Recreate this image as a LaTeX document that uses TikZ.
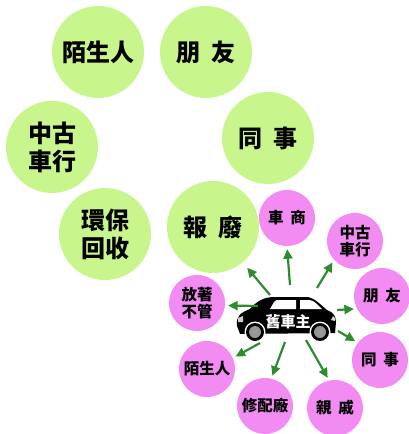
\documentclass[tikz,border=0pt]{standalone}
\usepackage{fontspec}
\newfontfamily\cjk{Noto Sans CJK TC}
\usetikzlibrary{arrows.meta}
\definecolor{limefill}{RGB}{200,245,140}
\definecolor{pinkfill}{RGB}{242,140,242}
\definecolor{arrowgreen}{RGB}{45,140,45}
\definecolor{wheelgray}{RGB}{150,150,150}
\newcommand{\gapsp}{\hspace{0.45em}}
\tikzset{
  bigball/.style={circle, fill=limefill, minimum size=92pt, inner sep=0pt,
    align=center, font=\cjk\bfseries\fontsize{24}{28}\selectfont},
  smallball/.style={circle, fill=pinkfill, minimum size=56pt, inner sep=0pt,
    align=center, font=\cjk\bfseries\fontsize{15.5}{17.5}\selectfont},
  outarrow/.style={draw=arrowgreen, line width=2.2pt,
    -{Triangle[length=9.5pt,width=9pt]}, shorten >=3pt},
}
\begin{document}
\begin{tikzpicture}[x=1pt, y=-1pt]
\useasboundingbox (0,0) rectangle (408,434);

% outer ring of lime circles
\node[bigball] (g1) at (98,52)   {陌生人};
\node[bigball] (g2) at (206,52)  {朋\gapsp 友};
\node[bigball] (g3) at (52,147)  {中古\\車行};
\node[bigball] (g4) at (268,138) {同\gapsp 事};
\node[bigball] (g5) at (105,234) {環保\\回收};
\node[bigball] (g6) at (213,227) {報\gapsp 廢};

% inner ring of pink circles
\node[smallball] (p1) at (287,218) {車\gapsp 商};
\node[smallball] (p2) at (355,241) {中古\\車行};
\node[smallball] (p3) at (382,296) {朋\gapsp 友};
\node[smallball] (p4) at (380,360) {同\gapsp 事};
\node[smallball] (p5) at (335,408) {親\gapsp 戚};
\node[smallball] (p6) at (265,406) {修配廠};
\node[smallball] (p7) at (207,369) {陌生人};
\node[smallball] (p8) at (197,303) {放著\\不管};

% the car
\fill[black] (240,334) -- (237,326)
  .. controls (236,316) and (240,313) .. (250,309)
  .. controls (256,302) and (262,298) .. (272,297) -- (308,297)
  .. controls (314,298) and (320,304) .. (327,310)
  .. controls (333,312) and (336,316) .. (336,322)
  -- (335,333) -- cycle;
\fill[white] (270,309) -- (274,302) .. controls (276,300) .. (280,300)
  -- (296,300) -- (296,309) -- cycle;
\fill[white] (300,300) -- (309,300) .. controls (314,301) .. (322,309)
  -- (300,309) -- cycle;
\fill[white!80!black] (238,318) -- (243,316) -- (243,322) -- (238,322) -- cycle;
\fill[white!85!black] (333,316) -- (335,318) -- (335,321) -- (331,320) -- cycle;
\foreach \cx in {255,320}{
  \fill[white] (\cx,332) circle (10.5pt);
  \fill[black] (\cx,332) circle (9pt);
  \fill[wheelgray] (\cx,332) circle (6pt);
  \fill[white!60!black] (\cx,332) circle (3pt);
}
\node[text=white, font=\cjk\bfseries\fontsize{15}{15}\selectfont]
  (owner) at (288,322) {舊車主};

% arrow starts around the car
\coordinate (s1) at (290,285);
\coordinate (s2) at (317,288);
\coordinate (s3) at (337,310);
\coordinate (s4) at (338,331);
\coordinate (s5) at (306,340);
\coordinate (s6) at (285,342);
\coordinate (s7) at (260,343);
\coordinate (s8) at (258,306);
\coordinate (s9) at (270,295);

\draw[outarrow] (s1) -- (p1.270);
\draw[outarrow] (s2) -- (p2.222);
\draw[outarrow] (s3) -- (p3.207);
\draw[outarrow] (s4) -- (p4.142);
\draw[outarrow] (s5) -- (p5.102);
\draw[outarrow] (s6) -- (p6.77);
\draw[outarrow] (s7) -- (p7.23);
\draw[outarrow] (s8) -- (p8.-5);
\draw[outarrow, shorten >=7pt] (s9) -- (g6.-50);
\end{tikzpicture}
\end{document}
